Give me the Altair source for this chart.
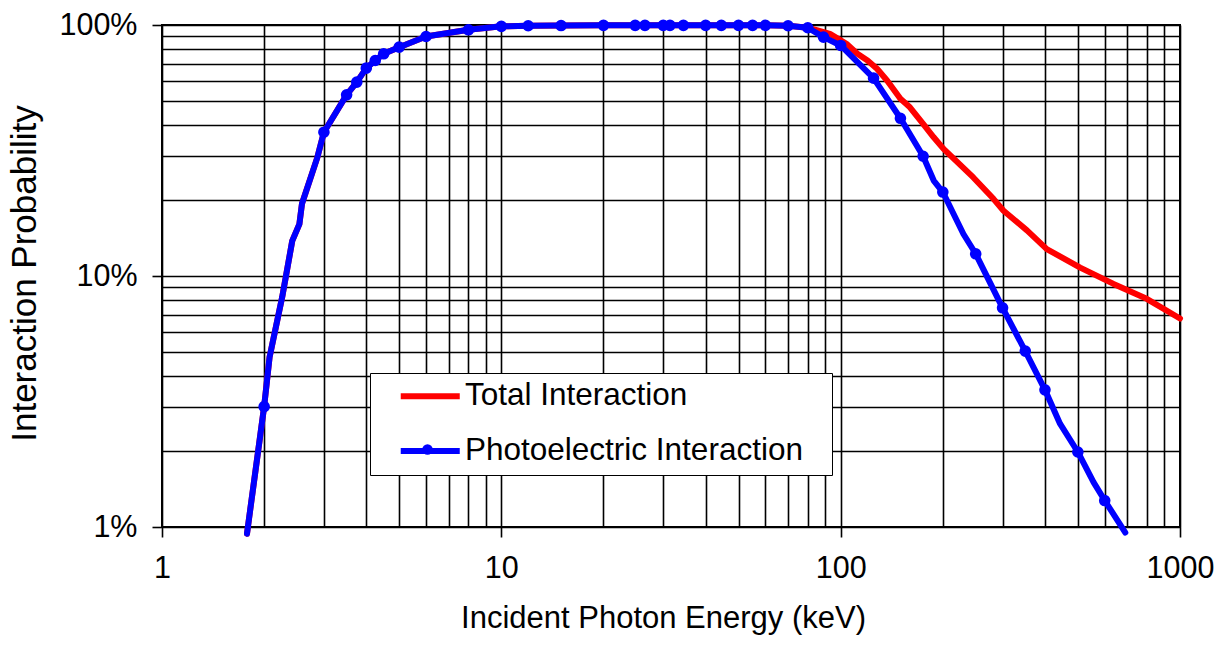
import altair as alt
import pandas as pd

SERIES_TOTAL = "Total Interaction"
SERIES_PE = "Photoelectric Interaction"

# Photoelectric interaction (blue) - energies in keV, probabilities as fractions
pe_energy = [1.78, 2, 2.075, 2.26, 2.42, 2.54, 2.585, 2.87, 3, 3.5, 3.75, 4, 4.25, 4.5, 5, 6, 8,
             10, 12, 15, 20, 24.8, 26.5, 30, 31.4, 34.4, 40, 44.5, 50, 55, 60, 70, 80, 89,
             100, 125, 150, 175, 188, 200, 230, 250, 300, 350, 400, 443, 500, 556, 600, 690]
pe_prob = [0.0094, 0.0302, 0.0475, 0.0823, 0.138, 0.161, 0.194, 0.297, 0.374, 0.527, 0.592, 0.673,
           0.722, 0.768, 0.816, 0.90, 0.957,
           0.988, 0.993, 0.995, 0.997, 0.997, 0.997, 0.997, 0.997, 0.997, 0.997, 0.997, 0.997,
           0.997, 0.997, 0.993, 0.975, 0.895,
           0.829, 0.614, 0.425, 0.300, 0.240, 0.216, 0.147, 0.1226, 0.0747, 0.0502, 0.0352,
           0.0258, 0.0199, 0.0151, 0.01275, 0.0095]
pe_marker = [False, True, False, False, False, False, False, False, True, True, True, True, True,
             True, True, True, True,
             True, True, True, True, True, True, True, True, True, True, True, True, True, True,
             True, True, True,
             True, True, True, True, False, True, False, True, True, True, True, False, True,
             False, True, False]

# Total interaction (red)
total_energy = [1.78, 2, 2.075, 2.26, 2.42, 2.54, 2.585, 2.87, 3, 3.5, 3.75, 4, 4.25, 4.5, 5, 6, 8,
                10, 12, 15, 20, 24.8, 26.5, 30, 31.4, 34.4, 40, 44.5, 50, 55, 60, 70, 80,
                93, 104, 112, 120, 128, 137, 150, 160, 175, 188, 201, 246, 282, 302, 354, 405,
                508, 637, 798, 1000]
total_prob = [0.0094, 0.0302, 0.0475, 0.0823, 0.138, 0.161, 0.194, 0.297, 0.374, 0.527, 0.592,
              0.673, 0.722, 0.768, 0.816, 0.90, 0.957,
              0.988, 0.993, 0.995, 0.997, 0.997, 0.997, 0.997, 0.997, 0.997, 0.997, 0.997,
              0.997, 0.997, 0.997, 0.993, 0.975,
              0.922, 0.842, 0.768, 0.722, 0.669, 0.601, 0.508, 0.470, 0.404, 0.357, 0.321,
              0.247, 0.203, 0.182, 0.152, 0.128, 0.108, 0.093, 0.0811, 0.0677]

x_grid = [1, 2, 3, 4, 5, 6, 7, 8, 9, 10, 20, 30, 40, 50, 60, 70, 80, 90,
          100, 200, 300, 400, 500, 600, 700, 800, 900, 1000]
y_grid = [0.01, 0.02, 0.03, 0.04, 0.05, 0.06, 0.07, 0.08, 0.09,
          0.1, 0.2, 0.3, 0.4, 0.5, 0.6, 0.7, 0.8, 0.9, 1]
x_major = [1, 10, 100, 1000]
y_major = [0.01, 0.1, 1]

FONT = "Liberation Sans"
LW = 6

df_total = pd.DataFrame({"energy": total_energy, "prob": total_prob, "series": SERIES_TOTAL})
df_pe = pd.DataFrame({"energy": pe_energy, "prob": pe_prob, "series": SERIES_PE,
                      "marker": pe_marker})
df_pts = df_pe[df_pe["marker"]]

x_test = "indexof(%s, datum.value) >= 0" % str(x_major)
y_test = "indexof(%s, datum.value) >= 0" % str(y_major)

x_axis = alt.Axis(
    values=x_grid, format="d", title="Incident Photon Energy (keV)",
    grid=True, gridColor="black", gridWidth=1.6, gridOpacity=1,
    domain=False, ticks=True, tickColor="black", tickWidth=1.6, tickSize=10,
    tickOpacity={"condition": {"test": x_test, "value": 1}, "value": 0},
    labelExpr=x_test + " ? datum.label : ''",
    labelFont=FONT, labelFontSize=30.5, labelColor="black", labelPadding=40,
    labelBaseline="alphabetic", labelFlush=False, labelOverlap=False,
    titleFont=FONT, titleFontSize=31, titleFontWeight="normal", titleColor="black",
    titleBaseline="alphabetic", titleX=501, titleY=100,
)
y_axis = alt.Axis(
    values=y_grid, title="Interaction Probability",
    grid=True, gridColor="black", gridWidth=1.6, gridOpacity=1,
    domain=False, ticks=True, tickColor="black", tickWidth=1.6, tickSize=10,
    tickOpacity={"condition": {"test": y_test, "value": 1}, "value": 0},
    labelExpr=y_test + " ? format(datum.value, '.0%') : ''",
    labelFont=FONT, labelFontSize=30.5, labelColor="black", labelPadding=15,
    labelOverlap=False, labelFlush=False,
    titleFont=FONT, titleFontSize=35, titleFontWeight="normal", titleColor="black",
    titleAngle=270, titleBaseline="alphabetic", titleAlign="center",
    titleX=-127, titleY=248,
)

x_enc = alt.X("energy:Q", scale=alt.Scale(type="log", domain=[1, 1000]), axis=x_axis)
y_enc = alt.Y("prob:Q", scale=alt.Scale(type="log", domain=[0.01, 1]), axis=y_axis)

# legend box: an invisible title on the right widens the box to the reference's size
line_legend = alt.Legend(
    title="M", titleOrient="right", titleOpacity=0, titleFontSize=26, titlePadding=0,
    titleFont=FONT,
    orient="none", legendX=208, legendY=348, direction="vertical",
    fillColor="white", strokeColor="black", padding=7.5,
    symbolType="M-3,0L3,0", symbolSize=387, symbolStrokeWidth=LW, symbolOffset=37,
    labelOffset=19, labelFont=FONT, labelFontSize=31.5, labelColor="black",
    labelLimit=0, rowPadding=21.8, zindex=1,
)
color_enc = alt.Color("series:N",
                      scale=alt.Scale(domain=[SERIES_TOTAL, SERIES_PE], range=["#ff0000", "#0000ff"]),
                      legend=line_legend)

# marker legend: just the dot, laid over the blue legend line
dot_legend = alt.Legend(
    title=None, orient="none", legendX=260, legendY=419, padding=0,
    symbolType="circle", symbolSize=110, symbolFillColor="#0000ff", symbolStrokeWidth=0,
    symbolOpacity=1, labelExpr="''", labelFontSize=1, labelOffset=0, zindex=2,
)
shape_enc = alt.Shape("series:N", scale=alt.Scale(domain=[SERIES_PE], range=["circle"]),
                      legend=dot_legend)

total_line = alt.Chart(df_total).mark_line(strokeWidth=LW, strokeCap="round", strokeJoin="round").encode(
    x=x_enc, y=y_enc, color=color_enc)
pe_line = alt.Chart(df_pe).mark_line(strokeWidth=LW, strokeCap="round", strokeJoin="round").encode(
    x=x_enc, y=y_enc, color=color_enc)
pe_points = alt.Chart(df_pts).mark_point(filled=True, size=135, opacity=1, color="#0000ff").encode(
    x=x_enc, y=y_enc, shape=shape_enc)

chart = alt.layer(total_line, pe_line, pe_points).properties(
    width=1018, height=502,
    padding={"left": 162, "top": 25, "right": 48, "bottom": 125},
    autosize=alt.AutoSizeParams(type="none"),
    background="white",
).configure_view(stroke="black", strokeWidth=2)

chart.save("out.html", embed_options={"renderer": "svg", "actions": False})
